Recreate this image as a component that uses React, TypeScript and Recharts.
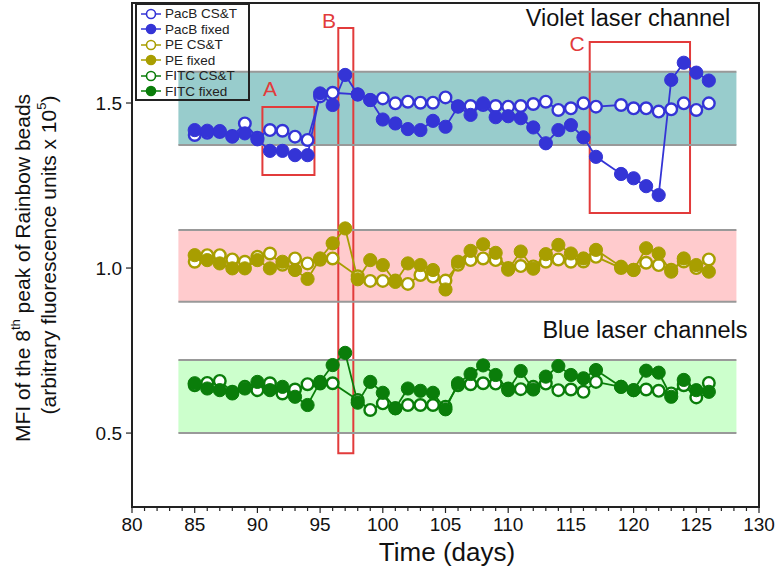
import { LineChart, Line, XAxis, YAxis, ReferenceArea, ReferenceLine } from 'recharts';

// days with a measurement (CS&T runs skip day 97, nothing on day 118)
const fixedDays = [85, 86, 87, 88, 89, 90, 91, 92, 93, 94, 95, 96, 97, 98, 99, 100, 101, 102, 103, 104, 105, 106, 107, 108, 109, 110, 111, 112, 113, 114, 115, 116, 117, 119, 120, 121, 122, 123, 124, 125, 126];
const cstDays = [85, 86, 87, 88, 89, 90, 91, 92, 93, 94, 95, 96, 98, 99, 100, 101, 102, 103, 104, 105, 106, 107, 108, 109, 110, 111, 112, 113, 114, 115, 116, 117, 119, 120, 121, 122, 123, 124, 125, 126];

const pacbCst = [1.403, 1.41, 1.412, 1.4, 1.438, 1.395, 1.418, 1.416, 1.398, 1.388, 1.52, 1.531, 1.526, 1.509, 1.514, 1.499, 1.504, 1.501, 1.501, 1.517, 1.49, 1.491, 1.494, 1.491, 1.489, 1.491, 1.497, 1.504, 1.479, 1.484, 1.499, 1.489, 1.494, 1.484, 1.484, 1.474, 1.481, 1.499, 1.479, 1.499];
const pacbFixed = [1.418, 1.416, 1.415, 1.398, 1.408, 1.39, 1.355, 1.355, 1.342, 1.342, 1.529, 1.494, 1.585, 1.526, 1.509, 1.45, 1.438, 1.421, 1.418, 1.446, 1.428, 1.489, 1.464, 1.499, 1.457, 1.46, 1.454, 1.426, 1.378, 1.418, 1.433, 1.396, 1.337, 1.285, 1.272, 1.248, 1.221, 1.57, 1.622, 1.592, 1.568];
const peCst = [1.019, 1.039, 1.039, 1.026, 1.019, 1.034, 1.044, 1.01, 1.029, 1.014, 1.025, 1.029, 0.975, 0.961, 0.961, 0.962, 0.952, 0.979, 0.974, 0.962, 1.01, 1.024, 1.029, 1.024, 1.0, 1.006, 1.005, 1.019, 1.026, 1.019, 1.02, 1.034, 1.0, 0.995, 1.016, 1.009, 0.995, 1.02, 1.0, 1.026];
const peFixed = [1.039, 1.024, 1.014, 0.999, 0.999, 1.024, 0.999, 1.019, 0.994, 0.967, 1.029, 1.075, 1.12, 0.966, 1.024, 1.009, 0.958, 1.014, 1.009, 0.994, 0.935, 1.019, 1.052, 1.072, 1.046, 0.995, 1.05, 0.998, 1.042, 1.07, 1.044, 1.029, 1.055, 1.004, 0.994, 1.06, 1.044, 0.989, 1.029, 1.009, 0.989];
const fitcCst = [0.645, 0.652, 0.658, 0.625, 0.64, 0.63, 0.651, 0.62, 0.632, 0.648, 0.65, 0.651, 0.6, 0.57, 0.59, 0.575, 0.585, 0.585, 0.585, 0.58, 0.645, 0.648, 0.651, 0.65, 0.635, 0.633, 0.64, 0.65, 0.63, 0.632, 0.625, 0.655, 0.64, 0.63, 0.632, 0.628, 0.62, 0.645, 0.608, 0.652];
const fitcFixed = [0.651, 0.635, 0.63, 0.62, 0.635, 0.655, 0.63, 0.64, 0.61, 0.585, 0.655, 0.706, 0.743, 0.592, 0.655, 0.622, 0.575, 0.635, 0.628, 0.622, 0.572, 0.651, 0.679, 0.705, 0.676, 0.63, 0.688, 0.632, 0.671, 0.703, 0.676, 0.666, 0.691, 0.64, 0.63, 0.689, 0.683, 0.61, 0.661, 0.63, 0.625];

const xLabels = [80, 85, 90, 95, 100, 105, 110, 115, 120, 125, 130];
const yLabels = [0.5, 1.0, 1.5];

const X_MIN = 80;
const X_MAX = 130;
const Y_MIN = 0.276;
const Y_MAX = 1.803;

const FONT = '"Liberation Sans", Arial, sans-serif';

const VIOLET = '#3434d6';
const OLIVE = '#a89e00';
const GREEN = '#0a7d0a';

const series = [
  { name: 'PacB CS&T', color: VIOLET, filled: false, days: cstDays, values: pacbCst },
  { name: 'PacB fixed', color: VIOLET, filled: true, days: fixedDays, values: pacbFixed },
  { name: 'PE CS&T', color: OLIVE, filled: false, days: cstDays, values: peCst },
  { name: 'PE fixed', color: OLIVE, filled: true, days: fixedDays, values: peFixed },
  { name: 'FITC CS&T', color: GREEN, filled: false, days: cstDays, values: fitcCst },
  { name: 'FITC fixed', color: GREEN, filled: true, days: fixedDays, values: fitcFixed },
];

// acceptance bands (x range and lower/upper bound), plus their fill
const bandX = [83.7, 128.2];
const bands = [
  { lo: 1.373, hi: 1.595, fill: '#98cccc' },
  { lo: 0.898, hi: 1.115, fill: '#ffcbcd' },
  { lo: 0.5, hi: 0.721, fill: '#ccffcc' },
];

// highlighted regions A, B, C
const boxes = [
  { id: 'A', x1: 90.4, x2: 94.55, y1: 1.282, y2: 1.488 },
  { id: 'B', x1: 96.45, x2: 97.65, y1: 0.439, y2: 1.727 },
  { id: 'C', x1: 116.5, x2: 124.5, y1: 1.167, y2: 1.685 },
];

const minorTicks = Array.from({ length: X_MAX - X_MIN + 1 }, (_, i) => X_MIN + i);

function XTick(props: any) {
  const { x, y, payload } = props;
  const v = payload.value;
  const major = xLabels.includes(v);
  return (
    <g>
      <line x1={x} x2={x} y1={y} y2={y + (major ? 6 : 4)} stroke="#222" strokeWidth={1.2} />
      {major && (
        <text x={x} y={y + 24} textAnchor="middle" fontSize={19} fill="#111" fontFamily={FONT}>
          {v}
        </text>
      )}
    </g>
  );
}

function LegendBox() {
  return (
    <div
      style={{
        position: 'absolute',
        left: 135,
        top: 3,
        width: 115,
        height: 98,
        border: '2px solid #222',
        boxSizing: 'border-box',
        padding: '1px 0 0 3px',
        fontFamily: FONT,
        fontSize: 13.5,
        color: '#222',
        lineHeight: '15.5px',
      }}
    >
      {series.map((s) => (
        <div key={s.name} style={{ display: 'flex', alignItems: 'center', height: 15.5 }}>
          <svg width={22} height={12} style={{ marginRight: 3 }}>
            <line x1={1} x2={21} y1={6} y2={6} stroke={s.color} strokeWidth={1.5} />
            <circle cx={11} cy={6} r={4.5} fill={s.filled ? s.color : '#fff'} stroke={s.color} strokeWidth={1.6} />
          </svg>
          <span>{s.name}</span>
        </div>
      ))}
    </div>
  );
}

export default function App() {
  return (
    <div style={{ position: 'absolute', left: 0, top: 0, width: 779, height: 574, background: '#fff' }}>
      <LineChart width={779} height={574} margin={{ top: 3, right: 20, bottom: 37, left: 72 }}>
        <XAxis
          dataKey="day"
          type="number"
          domain={[X_MIN, X_MAX]}
          ticks={minorTicks}
          interval={0}
          allowDataOverflow
          tick={(p: any) => <XTick {...p} />}
          tickLine={false}
          tickSize={0}
          tickMargin={0}
          height={30}
          axisLine={{ stroke: '#222', strokeWidth: 2 }}
        />
        <YAxis
          type="number"
          domain={[Y_MIN, Y_MAX]}
          ticks={yLabels}
          allowDataOverflow
          width={60}
          tickSize={6}
          tickMargin={4}
          tickFormatter={(v: number) => v.toFixed(1)}
          tick={{ fontSize: 19, fill: '#111', fontFamily: FONT }}
          tickLine={{ stroke: '#222', strokeWidth: 1.2 }}
          axisLine={{ stroke: '#222', strokeWidth: 2 }}
        />
        {bands.map((b, i) => (
          <ReferenceArea
            key={'band' + i}
            x1={bandX[0]}
            x2={bandX[1]}
            y1={b.lo}
            y2={b.hi}
            fill={b.fill}
            fillOpacity={1}
            stroke="none"
          />
        ))}
        {bands.flatMap((b, i) =>
          [b.lo, b.hi].map((yv, j) => (
            <ReferenceLine
              key={'bl' + i + '-' + j}
              segment={[
                { x: bandX[0], y: yv },
                { x: bandX[1], y: yv },
              ]}
              stroke="#999"
              strokeWidth={2}
            />
          ))
        )}
        {series.map((s) => (
          <Line
            key={s.name}
            name={s.name}
            data={s.days.map((d, i) => ({ day: d, mfi: s.values[i] }))}
            dataKey="mfi"
            type="linear"
            stroke={s.color}
            strokeWidth={1.8}
            dot={{ r: s.filled ? 6.6 : 5.8, fill: s.filled ? s.color : '#fff', stroke: s.color, strokeWidth: s.filled ? 1 : 2.4 }}
            activeDot={false}
            isAnimationActive={false}
          />
        ))}
        {boxes.map((b) => (
          <ReferenceArea
            key={b.id}
            x1={b.x1}
            x2={b.x2}
            y1={b.y1}
            y2={b.y2}
            fill="none"
            fillOpacity={0}
            stroke="#e23b3b"
            strokeWidth={2}
          />
        ))}
        <ReferenceArea x1={X_MIN} x2={X_MAX} y1={Y_MIN} y2={Y_MAX} fill="none" fillOpacity={0} stroke="#222" strokeWidth={2} />
      </LineChart>

      <svg
        width={779}
        height={574}
        style={{ position: 'absolute', left: 0, top: 0, pointerEvents: 'none' }}
        fontFamily={FONT}
      >
        <text transform="translate(22,268) rotate(-90)" textAnchor="middle" dominantBaseline="central" fontSize={21} fill="#111">
          MFI of the 8<tspan fontSize={13} dy={-7}>th</tspan>
          <tspan dy={7}> peak of Rainbow beads</tspan>
        </text>
        <text transform="translate(48,255) rotate(-90)" textAnchor="middle" dominantBaseline="central" fontSize={21} fill="#111">
          (arbitrary fluorescence units x 10<tspan fontSize={13} dy={-7}>5</tspan>
          <tspan dy={7}>)</tspan>
        </text>
        <text x={447} y={561} textAnchor="middle" fontSize={26} fill="#111">
          Time (days)
        </text>
        <text x={628} y={26} textAnchor="middle" fontSize={23.5} fill="#111">
          Violet laser channel
        </text>
        <text x={645} y={338} textAnchor="middle" fontSize={23.5} fill="#111">
          Blue laser channels
        </text>
        <text x={270} y={96} textAnchor="middle" fontSize={21} fill="#e23b3b">A</text>
        <text x={329} y={28} textAnchor="middle" fontSize={21} fill="#e23b3b">B</text>
        <text x={577} y={51} textAnchor="middle" fontSize={21} fill="#e23b3b">C</text>
      </svg>
      <LegendBox />
    </div>
  );
}
